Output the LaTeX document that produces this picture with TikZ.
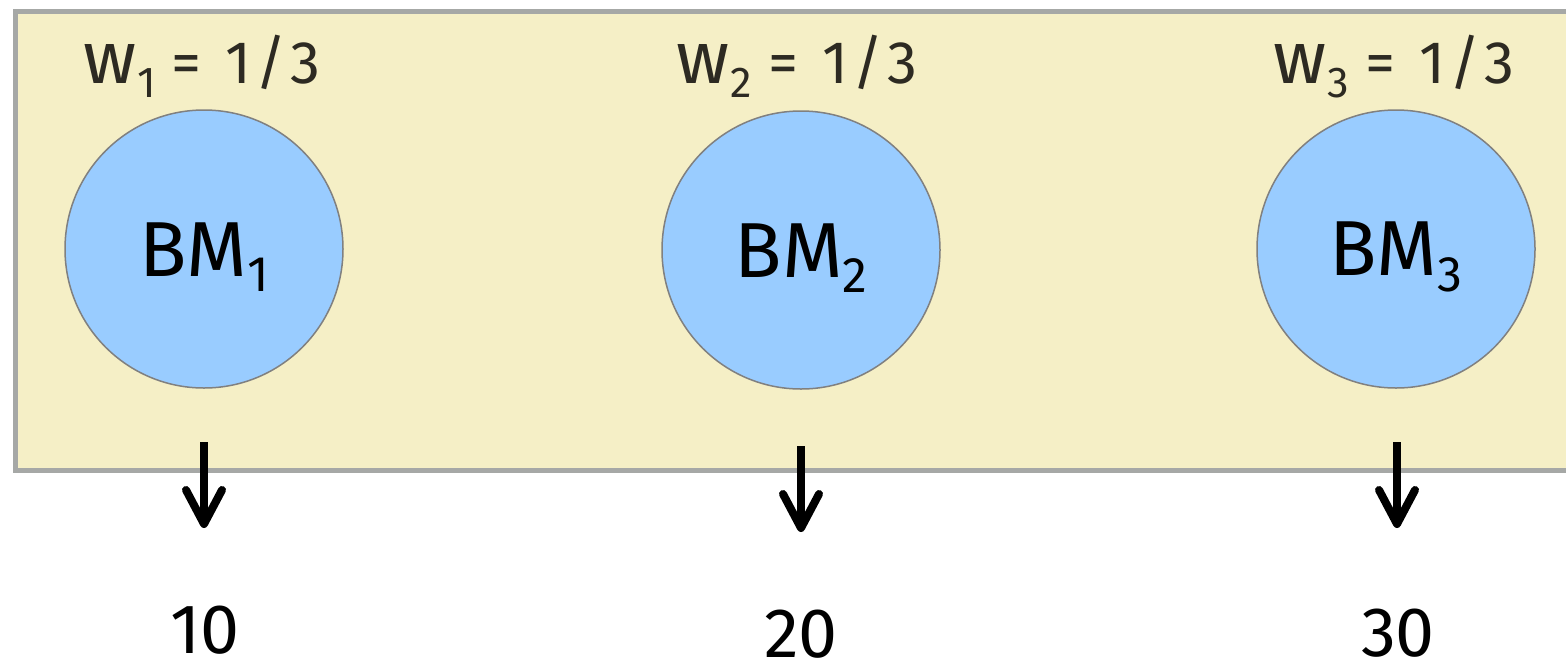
\documentclass[tikz,border=0pt]{standalone}
\usepackage{fontspec}
\setmainfont{Fira Sans}
\usetikzlibrary{arrows.meta}
\definecolor{boxfill}{HTML}{F5EFC6}
\definecolor{boxline}{HTML}{A6A8A6}
\definecolor{bmfill}{HTML}{99CCFF}
\definecolor{bmline}{HTML}{808080}
\definecolor{wtext}{HTML}{2D2A22}
\newcommand{\bmsub}[1]{\raisebox{-0.2em}{\scalebox{0.64}{#1}}}
\newcommand{\wsub}[1]{\raisebox{-0.24em}{\scalebox{0.72}{#1}}}
\newcommand{\wlabel}[1]{{\fontsize{74}{76}\selectfont w}\hspace{1pt}\wsub{#1}\hspace{16pt}=\hspace{24pt}1\hspace{4pt}/\hspace{4pt}3}
\newcommand{\bmlabel}[1]{\raisebox{-8pt}[\height][\depth]{BM\bmsub{#1}}}
\tikzset{
  bm/.style={circle, minimum size=278pt, inner sep=0pt, fill=bmfill, draw=bmline, line width=1.5pt, font=\fontsize{78}{80}\selectfont},
  wlab/.style={anchor=base, text=wtext, inner sep=0pt, font=\fontsize{60}{62}\selectfont},
  num/.style={anchor=base, text=black, inner sep=0pt, font=\fontsize{70}{72}\selectfont},
  arr/.style={line width=8pt, -{Straight Barb[length=34pt, width=36pt, line cap=round, line join=round]}},
}
\begin{document}
\begin{tikzpicture}[x=1pt,y=-1pt]
\useasboundingbox (0,0) rectangle (1566,662);
\fill[white] (0,0) rectangle (1566,662);
\draw[boxline, line width=5pt, fill=boxfill] (15.5,11.5) rectangle (1600,470.5);
\node[bm] (bm1) at (204,249) {\bmlabel{1}};
\node[bm] (bm2) at (801,250) {\bmlabel{2}};
\node[bm] (bm3) at (1396,249) {\bmlabel{3}};
\node[wlab] (w1) at (202,83) {\wlabel{1}};
\node[wlab] (w2) at (797,83) {\wlabel{2}};
\node[wlab] (w3) at (1394,83) {\wlabel{3}};
\node[num] (n1) at (205,653) {10};
\node[num] (n2) at (801,657) {20};
\node[num] (n3) at (1398,656) {30};
\coordinate (a1s) at (204,442); \coordinate (a1e) at (204,528);
\coordinate (a2s) at (801,446); \coordinate (a2e) at (801,532);
\coordinate (a3s) at (1397,442); \coordinate (a3e) at (1397,528);
\draw[arr] (a1s) -- (a1e);
\draw[arr] (a2s) -- (a2e);
\draw[arr] (a3s) -- (a3e);
\end{tikzpicture}
\end{document}
